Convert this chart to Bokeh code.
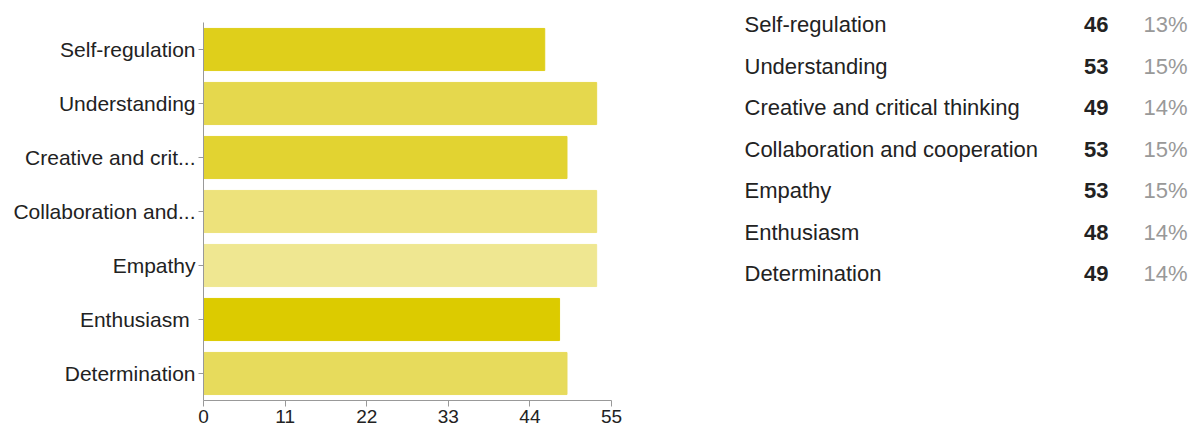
from bokeh.plotting import figure
from bokeh.layouts import row, column
from bokeh.models import FactorRange, Range1d, FixedTicker, ColumnDataSource
from bokeh.core.properties import value
from bokeh.embed import file_html
from bokeh.resources import INLINE

categories = ["Self-regulation", "Understanding", "Creative and critical thinking",
              "Collaboration and cooperation", "Empathy", "Enthusiasm", "Determination"]
short_labels = ["Self-regulation", "Understanding", "Creative and crit...",
                "Collaboration and...", "Empathy", "Enthusiasm ", "Determination"]
counts = [46, 53, 49, 53, 53, 48, 49]
colors = ["#DFCF1B", "#E5D84D", "#E2D331", "#EDE27B", "#EFE791", "#DCCB00", "#E7DB5C"]
x_ticks = [0, 11, 22, 33, 44, 55]

total = sum(counts)
percents = ["%d%%" % round(100.0 * c / total) for c in counts]

FONT = "Liberation Sans"

src = ColumnDataSource(dict(cat=short_labels, n=counts, color=colors))

p = figure(width=650, height=432, output_backend="svg", toolbar_location=None,
           y_range=FactorRange(*reversed(short_labels), range_padding=0),
           x_range=Range1d(0, 55),
           min_border_left=203, min_border_right=39, min_border_top=22, min_border_bottom=32)
p.hbar(y="cat", right="n", left=0, height=0.78, color="color", source=src)
p.outline_line_color = None
p.xgrid.visible = False
p.ygrid.visible = False
p.background_fill_color = "white"

p.xaxis.ticker = FixedTicker(ticks=x_ticks)
p.xaxis.axis_line_color = "#999999"
p.xaxis.major_tick_line_color = "#999999"
p.xaxis.major_tick_out = 6
p.xaxis.major_tick_in = 0
p.xaxis.minor_tick_line_color = None
p.xaxis.major_label_text_font = FONT
p.xaxis.major_label_text_font_size = "19px"
p.xaxis.major_label_text_color = "#222222"
p.xaxis.major_label_standoff = 3

p.yaxis.axis_line_color = "#999999"
p.yaxis.major_tick_line_color = "#999999"
p.yaxis.major_tick_out = 5
p.yaxis.major_tick_in = 0
p.yaxis.major_label_text_font = FONT
p.yaxis.major_label_text_font_size = "21px"
p.yaxis.major_label_text_color = "#222222"
p.yaxis.major_label_standoff = 3

# summary table: a bare figure whose frame covers its whole area (data units = pixels)
t = figure(width=543, height=432, output_backend="svg", toolbar_location=None,
           x_range=Range1d(0, 543), y_range=Range1d(432, 0),
           x_axis_location=None, y_axis_location=None,
           min_border=0)
t.title.visible = False
t.grid.visible = False
t.outline_line_color = None

n = len(categories)
tsrc = ColumnDataSource(dict(
    y=[24 + i * 41.5 for i in range(n)],
    xl=[94] * n, xn=[458] * n, xp=[537] * n,
    name=categories, cnt=[str(c) for c in counts], pct=percents))

common = dict(y="y", source=tsrc, text_font=value(FONT), text_font_size="22px",
              text_baseline="middle")
t.text(x="xl", text="name", text_color="#222222", text_align="left", **common)
t.text(x="xn", text="cnt", text_color="#222222", text_align="right",
       text_font_style="bold", **common)
t.text(x="xp", text="pct", text_color="#999999", text_align="right", **common)

layout = row(p, column(t))
open("out.html", "w").write(file_html(layout, INLINE))
